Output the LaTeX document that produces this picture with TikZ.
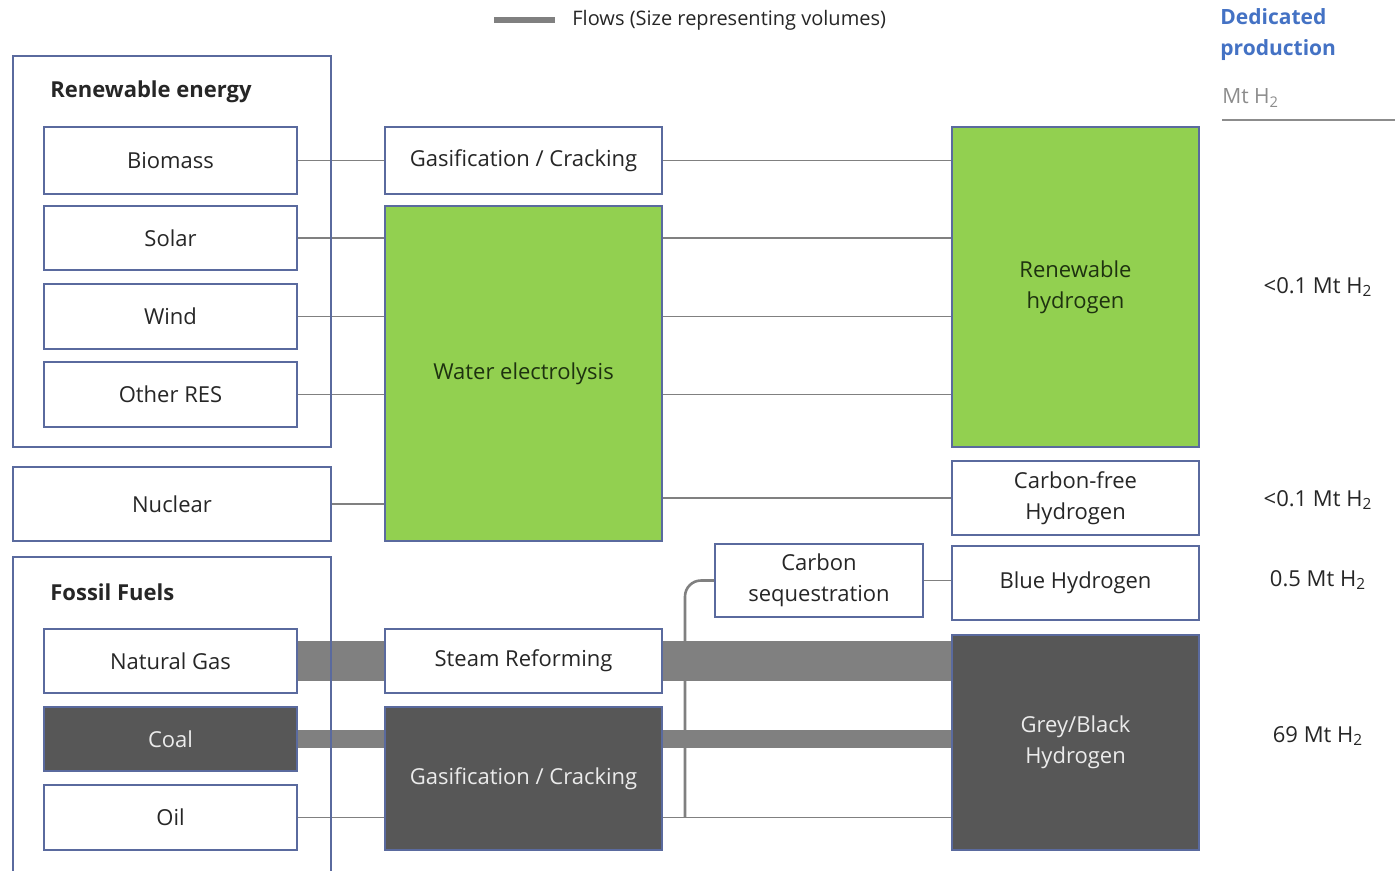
\documentclass[tikz,border=0pt]{standalone}
\usepackage{fontspec}
\setmainfont{Open Sans}
\definecolor{bord}{HTML}{5A6A9E}
\definecolor{hgreen}{HTML}{92D050}
\definecolor{hdark}{HTML}{575757}
\definecolor{flow}{HTML}{808080}
\definecolor{txt}{HTML}{262626}
\definecolor{greentxt}{HTML}{1E3210}
\definecolor{hblue}{HTML}{4472C4}
\definecolor{hgrey}{HTML}{8C8C8C}
\pgfdeclarelayer{bg}
\pgfsetlayers{bg,main}
\tikzset{
  box/.style={draw=bord, line width=0.75pt, fill=white, inner sep=0pt, text=txt,
    font=\fontsize{11}{15.5}\selectfont, align=center},
  greenbox/.style={box, fill=hgreen, text=greentxt},
  darkbox/.style={box, fill=hdark, text=white!92!black},
  groupbox/.style={draw=bord, line width=0.75pt, inner sep=0pt},
  conn/.style={draw=flow, line width=0.8pt},
  band/.style={draw=flow, line width=#1},
  grouplabel/.style={anchor=west, inner sep=0pt, text=txt, font=\fontsize{11}{13}\selectfont\bfseries},
  value/.style={inner sep=0pt, text=txt, font=\fontsize{11}{13}\selectfont},
}
\begin{document}
\begin{tikzpicture}[x=0.5pt,y=-0.5pt]
\path[use as bounding box] (0,0) rectangle (1395,871);

% legend and header
\coordinate (lg1) at (494,20);
\coordinate (lg2) at (555,20);
\draw[band=3pt] (lg1) -- (lg2);
\node[anchor=west, inner sep=0pt, text=txt, font=\fontsize{10}{12}\selectfont] (lgt) at (572,20) {Flows (Size representing volumes)};
\node[anchor=north west, inner sep=0pt, align=left, text=hblue, font=\fontsize{10.5}{15.5}\selectfont\bfseries] (hdr) at (1220,8) {Dedicated\\production};
\node[anchor=west, inner sep=0pt, text=hgrey, font=\fontsize{10.5}{13}\selectfont] (unit) at (1222,98) {Mt H\textsubscript{2}};
\coordinate (hl1) at (1222,120);
\coordinate (hl2) at (1395,120);
\draw[draw=hgrey, line width=1pt] (hl1) -- (hl2);

% group boxes
\node[groupbox, minimum width=159pt, minimum height=195.5pt] (reg) at (172,251.5) {};
\node[grouplabel] (reglbl) at (50,92) {Renewable energy};
\coordinate (fb1) at (13,880);
\coordinate (fb2) at (13,557);
\coordinate (fb3) at (331,557);
\coordinate (fb4) at (331,880);
\draw[groupbox] (fb1) -- (fb2) -- (fb3) -- (fb4);
\node[grouplabel] (foslbl) at (50,592) {Fossil Fuels};

% sources
\node[box, minimum width=126.5pt, minimum height=33.5pt] (bio) at (170.5,160.5) {Biomass};
\node[box, minimum width=126.5pt, minimum height=32pt] (sol) at (170.5,238) {Solar};
\node[box, minimum width=126.5pt, minimum height=32.5pt] (wind) at (170.5,316.5) {Wind};
\node[box, minimum width=126.5pt, minimum height=32.5pt] (ores) at (170.5,394.5) {Other RES};
\node[box, minimum width=159pt, minimum height=37pt] (nuc) at (172,504) {Nuclear};
\node[box, minimum width=126.5pt, minimum height=32pt] (ng) at (170.5,661) {Natural Gas};
\node[darkbox, minimum width=126.5pt, minimum height=32pt] (coal) at (170.5,739) {Coal};
\node[box, minimum width=126.5pt, minimum height=32.5pt] (oil) at (170.5,817.5) {Oil};

% processes
\node[box, minimum width=138.5pt, minimum height=33.5pt] (gas1) at (523.5,160.5) {Gasification / Cracking};
\node[greenbox, minimum width=138.5pt, minimum height=167.5pt] (we) at (523.5,373.5) {Water electrolysis};
\node[box, minimum width=138.5pt, minimum height=32pt] (sr) at (523.5,661) {Steam Reforming};
\node[darkbox, minimum width=138.5pt, minimum height=71.5pt] (gas2) at (523.5,778.5) {Gasification / Cracking};
\node[box, minimum width=104pt, minimum height=36.5pt] (cs) at (819,580.5) {Carbon\\sequestration};

% products
\node[greenbox, minimum width=123.5pt, minimum height=160pt] (rh) at (1075.5,287) {Renewable\\hydrogen};
\node[box, minimum width=123.5pt, minimum height=37pt] (cfh) at (1075.5,498) {Carbon-free\\Hydrogen};
\node[box, minimum width=123.5pt, minimum height=37pt] (bh) at (1075.5,583) {Blue Hydrogen};
\node[darkbox, minimum width=123.5pt, minimum height=107.5pt] (gbh) at (1075.5,742.5) {Grey/Black\\Hydrogen};

% values
\node[value] (v1) at (1318,287) {<0.1 Mt H\textsubscript{2}};
\node[value] (v2) at (1318,500) {<0.1 Mt H\textsubscript{2}};
\node[value] (v3) at (1318,580) {0.5 Mt H\textsubscript{2}};
\node[value] (v4) at (1318,736) {69 Mt H\textsubscript{2}};

% connectors
\begin{pgfonlayer}{bg}
\fill[white] (0,0) rectangle (1395,871);
\draw[conn] (bio.east) -- (gas1.west);
\draw[conn] (gas1.east) -- (gas1.east -| rh.west);
\draw[conn] (sol.east) -- (sol.east -| we.west);
\draw[conn] (wind.east) -- (wind.east -| we.west);
\draw[conn] (ores.east) -- (ores.east -| we.west);
\draw[conn] (nuc.east) -- (nuc.east -| we.west);
\draw[conn] (we.east |- sol.east) -- (rh.west |- sol.east);
\draw[conn] (we.east |- wind.east) -- (rh.west |- wind.east);
\draw[conn] (we.east |- ores.east) -- (rh.west |- ores.east);
\draw[conn] (we.east |- cfh.west) -- (cfh.west);
\draw[conn] (cs.east) -- (cs.east -| bh.west);
\draw[band=20pt] (ng.east) -- (sr.west);
\draw[band=20pt] (sr.east) -- (sr.east -| gbh.west);
\draw[band=9pt] (coal.east) -- (coal.east -| gas2.west);
\draw[band=9pt] (gas2.east |- coal.east) -- (gbh.west |- coal.east);
\draw[conn] (oil.east) -- (oil.east -| gas2.west);
\draw[conn] (gas2.east |- oil.east) -- (gbh.west |- oil.east);
\coordinate (br) at (685,817);
\draw[draw=flow, line width=1.3pt, rounded corners=8pt] (br) |- (cs.west);
\end{pgfonlayer}
\end{tikzpicture}
\end{document}
